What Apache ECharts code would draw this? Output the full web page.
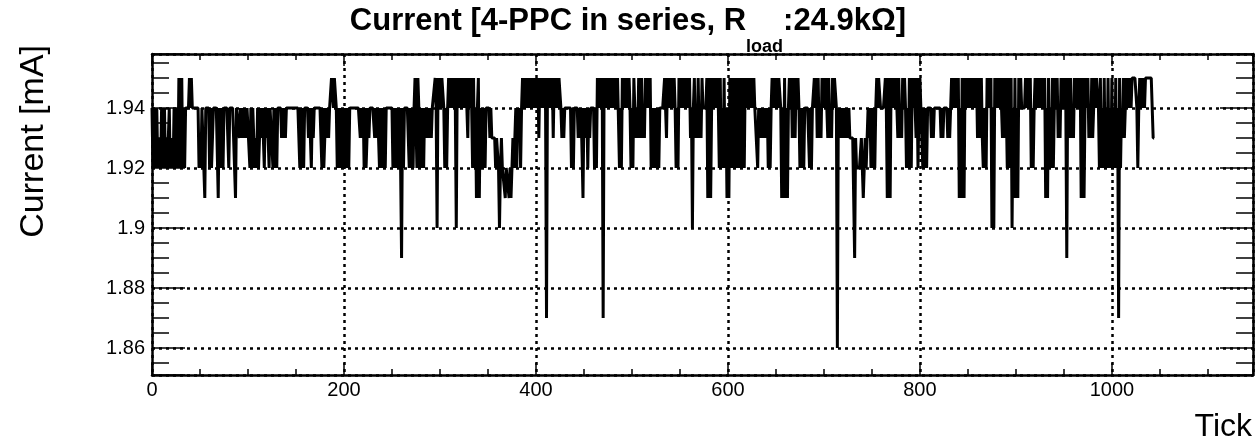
<!DOCTYPE html>
<html>
<head>
<meta charset="utf-8">
<title>Current [4-PPC in series, Rload:24.9kΩ]</title>
<script src="https://cdn.jsdelivr.net/npm/echarts@6/dist/echarts.min.js"></script>
<style>
  html, body { margin: 0; padding: 0; background: #ffffff; }
  #chart { width: 1256px; height: 448px; }
</style>
</head>
<body>
<div id="chart"></div>
<script>
// Measured current in mA, one reading per tick (tick = array index)
const current = [
  1.94,1.92,1.94,1.93,1.92,1.94,1.92,1.92,1.93,1.92,1.94,1.92,1.92,1.94,1.92,1.93,1.92,1.92,1.94,1.92,1.93,1.93,1.92,1.94,1.92,
  1.92,1.94,1.92,1.95,1.92,1.94,1.95,1.92,1.94,1.92,1.94,1.94,1.94,1.94,1.95,1.94,1.95,1.94,1.94,1.94,1.94,1.94,1.94,1.94,1.92,
  1.93,1.92,1.94,1.94,1.94,1.91,1.94,1.94,1.94,1.94,1.92,1.94,1.92,1.93,1.94,1.94,1.94,1.94,1.94,1.91,1.94,1.94,1.92,1.94,1.92,
  1.94,1.94,1.94,1.94,1.94,1.92,1.94,1.94,1.94,1.94,1.94,1.94,1.91,1.94,1.94,1.94,1.93,1.94,1.93,1.94,1.93,1.93,1.94,1.93,1.94,
  1.94,1.94,1.92,1.94,1.92,1.94,1.94,1.92,1.93,1.92,1.94,1.92,1.93,1.94,1.93,1.94,1.93,1.92,1.94,1.93,1.94,1.93,1.92,1.94,1.94,
  1.94,1.92,1.94,1.92,1.94,1.92,1.94,1.94,1.94,1.94,1.93,1.94,1.93,1.94,1.93,1.94,1.94,1.94,1.94,1.94,1.94,1.94,1.94,1.94,1.94,
  1.94,1.94,1.94,1.94,1.92,1.94,1.92,1.94,1.92,1.94,1.94,1.94,1.94,1.93,1.94,1.93,1.92,1.94,1.93,1.94,1.94,1.94,1.94,1.94,1.94,
  1.94,1.94,1.92,1.94,1.92,1.93,1.94,1.93,1.94,1.93,1.94,1.94,1.95,1.95,1.94,1.95,1.95,1.94,1.92,1.94,1.92,1.94,1.92,1.94,1.92,
  1.94,1.92,1.94,1.92,1.94,1.92,1.94,1.94,1.94,1.94,1.94,1.94,1.94,1.94,1.94,1.94,1.94,1.93,1.94,1.93,1.94,1.92,1.94,1.92,1.93,
  1.94,1.93,1.94,1.94,1.94,1.94,1.94,1.93,1.94,1.93,1.94,1.93,1.92,1.94,1.92,1.94,1.92,1.94,1.92,1.94,1.94,1.94,1.94,1.94,1.94,
  1.94,1.92,1.94,1.92,1.94,1.92,1.94,1.92,1.94,1.92,1.89,1.94,1.92,1.94,1.94,1.94,1.94,1.94,1.92,1.94,1.92,1.94,1.92,1.94,1.95,
  1.95,1.92,1.95,1.94,1.92,1.94,1.92,1.94,1.92,1.94,1.93,1.94,1.93,1.94,1.93,1.94,1.93,1.94,1.94,1.94,1.95,1.94,1.90,1.95,1.94,
  1.95,1.94,1.95,1.95,1.94,1.92,1.94,1.92,1.94,1.95,1.94,1.95,1.94,1.95,1.94,1.95,1.94,1.90,1.95,1.94,1.95,1.94,1.95,1.95,1.94,
  1.95,1.94,1.95,1.94,1.93,1.95,1.94,1.95,1.94,1.92,1.95,1.92,1.94,1.91,1.94,1.95,1.91,1.94,1.92,1.94,1.92,1.94,1.92,1.94,1.94,
  1.94,1.94,1.93,1.94,1.93,1.93,1.93,1.93,1.92,1.93,1.93,1.92,1.90,1.92,1.93,1.92,1.92,1.92,1.91,1.92,1.92,1.92,1.91,1.92,1.91,
  1.92,1.93,1.92,1.93,1.94,1.92,1.94,1.93,1.94,1.92,1.94,1.95,1.94,1.95,1.95,1.94,1.95,1.94,1.95,1.95,1.94,1.95,1.94,1.95,1.94,
  1.95,1.94,1.95,1.93,1.95,1.94,1.95,1.95,1.94,1.95,1.94,1.87,1.95,1.94,1.95,1.95,1.94,1.95,1.93,1.95,1.94,1.95,1.95,1.94,1.95,
  1.95,1.94,1.93,1.94,1.93,1.94,1.94,1.94,1.94,1.94,1.94,1.94,1.92,1.94,1.92,1.94,1.94,1.94,1.94,1.93,1.94,1.93,1.94,1.94,1.91,
  1.94,1.94,1.93,1.94,1.92,1.94,1.93,1.94,1.94,1.94,1.94,1.92,1.94,1.92,1.95,1.94,1.95,1.95,1.94,1.95,1.87,1.95,1.94,1.95,1.95,
  1.94,1.95,1.94,1.95,1.95,1.94,1.95,1.94,1.95,1.94,1.95,1.95,1.92,1.94,1.92,1.95,1.94,1.95,1.94,1.95,1.95,1.94,1.95,1.94,1.92,
  1.94,1.92,1.95,1.94,1.93,1.94,1.93,1.95,1.93,1.94,1.95,1.93,1.94,1.93,1.95,1.94,1.95,1.95,1.94,1.95,1.92,1.94,1.92,1.94,1.92,
  1.94,1.92,1.94,1.92,1.94,1.94,1.94,1.94,1.94,1.95,1.94,1.93,1.95,1.94,1.95,1.95,1.94,1.95,1.94,1.95,1.94,1.92,1.94,1.92,1.95,
  1.94,1.95,1.94,1.95,1.95,1.94,1.95,1.94,1.95,1.94,1.95,1.93,1.94,1.90,1.94,1.95,1.93,1.94,1.93,1.95,1.93,1.94,1.93,1.95,1.94,
  1.94,1.94,1.94,1.95,1.91,1.94,1.95,1.91,1.94,1.95,1.94,1.95,1.95,1.94,1.95,1.94,1.92,1.95,1.92,1.94,1.92,1.95,1.92,1.94,1.91,
  1.94,1.91,1.95,1.92,1.94,1.95,1.92,1.95,1.94,1.92,1.95,1.92,1.94,1.95,1.92,1.94,1.95,1.92,1.95,1.94,1.95,1.94,1.95,1.95,1.94,
  1.95,1.94,1.95,1.94,1.94,1.94,1.92,1.94,1.94,1.93,1.94,1.93,1.94,1.93,1.94,1.93,1.94,1.92,1.94,1.92,1.94,1.95,1.94,1.95,1.95,
  1.94,1.95,1.94,1.95,1.95,1.94,1.91,1.94,1.91,1.95,1.91,1.94,1.91,1.94,1.95,1.94,1.95,1.93,1.95,1.94,1.93,1.95,1.94,1.95,1.94,
  1.92,1.94,1.92,1.94,1.92,1.94,1.94,1.94,1.94,1.94,1.92,1.94,1.92,1.94,1.94,1.95,1.94,1.95,1.93,1.95,1.93,1.94,1.93,1.95,1.94,
  1.95,1.94,1.95,1.95,1.93,1.95,1.93,1.94,1.93,1.95,1.94,1.95,1.95,1.94,1.86,1.94,1.94,1.93,1.94,1.93,1.94,1.93,1.94,1.93,1.94,
  1.93,1.94,1.93,1.93,1.93,1.93,1.93,1.89,1.93,1.92,1.92,1.92,1.92,1.92,1.93,1.92,1.91,1.92,1.93,1.92,1.93,1.94,1.93,1.94,1.92,
  1.94,1.92,1.94,1.92,1.94,1.95,1.94,1.95,1.95,1.94,1.94,1.94,1.94,1.94,1.95,1.94,1.91,1.95,1.94,1.91,1.95,1.94,1.95,1.95,1.94,
  1.95,1.94,1.93,1.95,1.93,1.94,1.93,1.95,1.94,1.95,1.94,1.92,1.94,1.92,1.95,1.94,1.92,1.95,1.94,1.95,1.94,1.93,1.95,1.92,1.94,
  1.95,1.94,1.94,1.92,1.94,1.92,1.94,1.92,1.94,1.94,1.94,1.94,1.93,1.94,1.93,1.94,1.94,1.94,1.94,1.94,1.94,1.94,1.93,1.94,1.93,
  1.94,1.94,1.94,1.94,1.93,1.94,1.93,1.94,1.95,1.94,1.95,1.95,1.94,1.95,1.94,1.95,1.91,1.94,1.91,1.95,1.94,1.91,1.95,1.94,1.95,
  1.94,1.95,1.95,1.94,1.95,1.94,1.95,1.95,1.94,1.95,1.93,1.95,1.94,1.93,1.95,1.93,1.92,1.94,1.93,1.92,1.95,1.94,1.95,1.94,1.95,
  1.90,1.94,1.90,1.95,1.94,1.95,1.94,1.95,1.94,1.95,1.94,1.93,1.95,1.93,1.95,1.94,1.92,1.95,1.92,1.94,1.95,1.90,1.94,1.91,1.95,
  1.91,1.94,1.91,1.95,1.94,1.95,1.94,1.94,1.94,1.94,1.95,1.94,1.95,1.95,1.94,1.95,1.92,1.94,1.92,1.94,1.95,1.94,1.95,1.95,1.94,
  1.95,1.94,1.95,1.95,1.94,1.95,1.91,1.94,1.91,1.95,1.92,1.94,1.92,1.95,1.92,1.94,1.95,1.94,1.95,1.93,1.94,1.93,1.95,1.94,1.95,
  1.94,1.95,1.94,1.89,1.95,1.94,1.93,1.95,1.93,1.94,1.93,1.95,1.94,1.95,1.94,1.95,1.94,1.95,1.91,1.94,1.95,1.91,1.94,1.95,1.94,
  1.95,1.93,1.94,1.93,1.95,1.93,1.94,1.95,1.94,1.95,1.95,1.94,1.92,1.95,1.92,1.94,1.92,1.95,1.92,1.94,1.92,1.95,1.92,1.94,1.92,
  1.95,1.92,1.94,1.92,1.95,1.92,1.94,1.87,1.95,1.92,1.94,1.93,1.95,1.93,1.94,1.95,1.94,1.95,1.94,1.95,1.94,1.95,1.95,1.95,1.95,
  1.95,1.94,1.92,1.94,1.95,1.94,1.95,1.94,1.95,1.94,1.95,1.95,1.95,1.95,1.95,1.95,1.95,1.95,1.93,1.93
];

// Axis tick values and their printed labels
const xMajorTicks = [0, 200, 400, 600, 800, 1000];
const xTickLabels = ['0', '200', '400', '600', '800', '1000'];
const yMajorTicks = [1.86, 1.88, 1.90, 1.92, 1.94];
const yTickLabels = ['1.86', '1.88', '1.9', '1.92', '1.94'];

const FONT = '"Liberation Sans", Arial, Helvetica, sans-serif';
const INK = '#000000';

// Axis ranges
const X_MIN = 0, X_MAX = 1147;
const Y_MIN = 1.851, Y_MAX = 1.958;

function labelFor(ticks, labels) {
  return function (v) {
    for (let i = 0; i < ticks.length; i++) {
      if (Math.abs(v - ticks[i]) < 1e-6) return labels[i];
    }
    return '';
  };
}

const frameLine = { show: true, onZero: false, lineStyle: { color: INK, width: 2.5 } };
const gridDots = { show: true, lineStyle: { color: INK, width: 2.5, type: [3, 4] } };

// x axes: bottom carries labels and the dotted grid, top only mirrors the ticks
function xAx(position) {
  const main = position === 'bottom';
  return {
    type: 'value', position, min: X_MIN, max: X_MAX, interval: 200,
    axisLine: frameLine,
    axisTick: { show: true, inside: true, length: 12, lineStyle: { color: INK, width: 1.5 } },
    minorTick: { show: true, splitNumber: 4, length: 6, lineStyle: { color: INK, width: 1.5 } },
    axisLabel: main ? {
      show: true, color: INK, fontFamily: FONT, fontSize: 20, margin: 5,
      formatter: labelFor(xMajorTicks, xTickLabels)
    } : { show: false },
    splitLine: main ? gridDots : { show: false }
  };
}

// y axes: step of 0.02 picked by splitNumber, minor step 0.005
function yAx(position) {
  const main = position === 'left';
  return {
    type: 'value', position, min: Y_MIN, max: Y_MAX, splitNumber: 5,
    axisLine: frameLine,
    axisTick: { show: true, inside: true, length: 33, lineStyle: { color: INK, width: 1.5 } },
    minorTick: { show: true, splitNumber: 4, length: 17, lineStyle: { color: INK, width: 1.5 } },
    axisLabel: main ? {
      show: true, color: INK, fontFamily: FONT, fontSize: 20, margin: 7,
      formatter: labelFor(yMajorTicks, yTickLabels)
    } : { show: false },
    splitLine: main ? gridDots : { show: false }
  };
}

const chart = echarts.init(document.getElementById('chart'), null, { renderer: 'canvas' });

chart.setOption({
  animation: false,
  backgroundColor: '#ffffff',
  textStyle: { fontFamily: FONT, color: INK },
  title: {
    text: '{t|Current [4-PPC in series, R}{s|load}{t|:24.9kΩ]}',
    left: 'center', top: 6, padding: 0,
    textStyle: {
      rich: {
        t: { fontFamily: FONT, fontSize: 31, fontWeight: 'bold', color: INK, lineHeight: 34, verticalAlign: 'top' },
        s: { fontFamily: FONT, fontSize: 18, fontWeight: 'bold', color: INK, lineHeight: 20, padding: [32, 0, 0, 0], verticalAlign: 'top' }
      }
    }
  },
  grid: { left: 152, right: 3, top: 54, bottom: 73, containLabel: false, outerBoundsMode: 'none' },
  xAxis: [xAx('bottom'), xAx('top')],
  yAxis: [yAx('left'), yAx('right')],
  graphic: [
    {
      type: 'text', x: 34, y: 45, rotation: Math.PI / 2, silent: true,
      style: { text: 'Current [mA]', fontFamily: FONT, fontSize: 34, fill: INK, align: 'right', verticalAlign: 'middle' }
    },
    {
      type: 'text', x: 1252, y: 427, silent: true,
      style: { text: 'Tick', fontFamily: FONT, fontSize: 32, fill: INK, align: 'right', verticalAlign: 'middle' }
    }
  ],
  series: [{
    type: 'line',
    xAxisIndex: 0, yAxisIndex: 0,
    data: current.map((v, i) => [i, v]),
    showSymbol: false, symbol: 'none',
    sampling: null,
    lineStyle: { color: INK, width: 3 },
    silent: true, clip: true, z: 5
  }]
});
</script>
</body>
</html>
